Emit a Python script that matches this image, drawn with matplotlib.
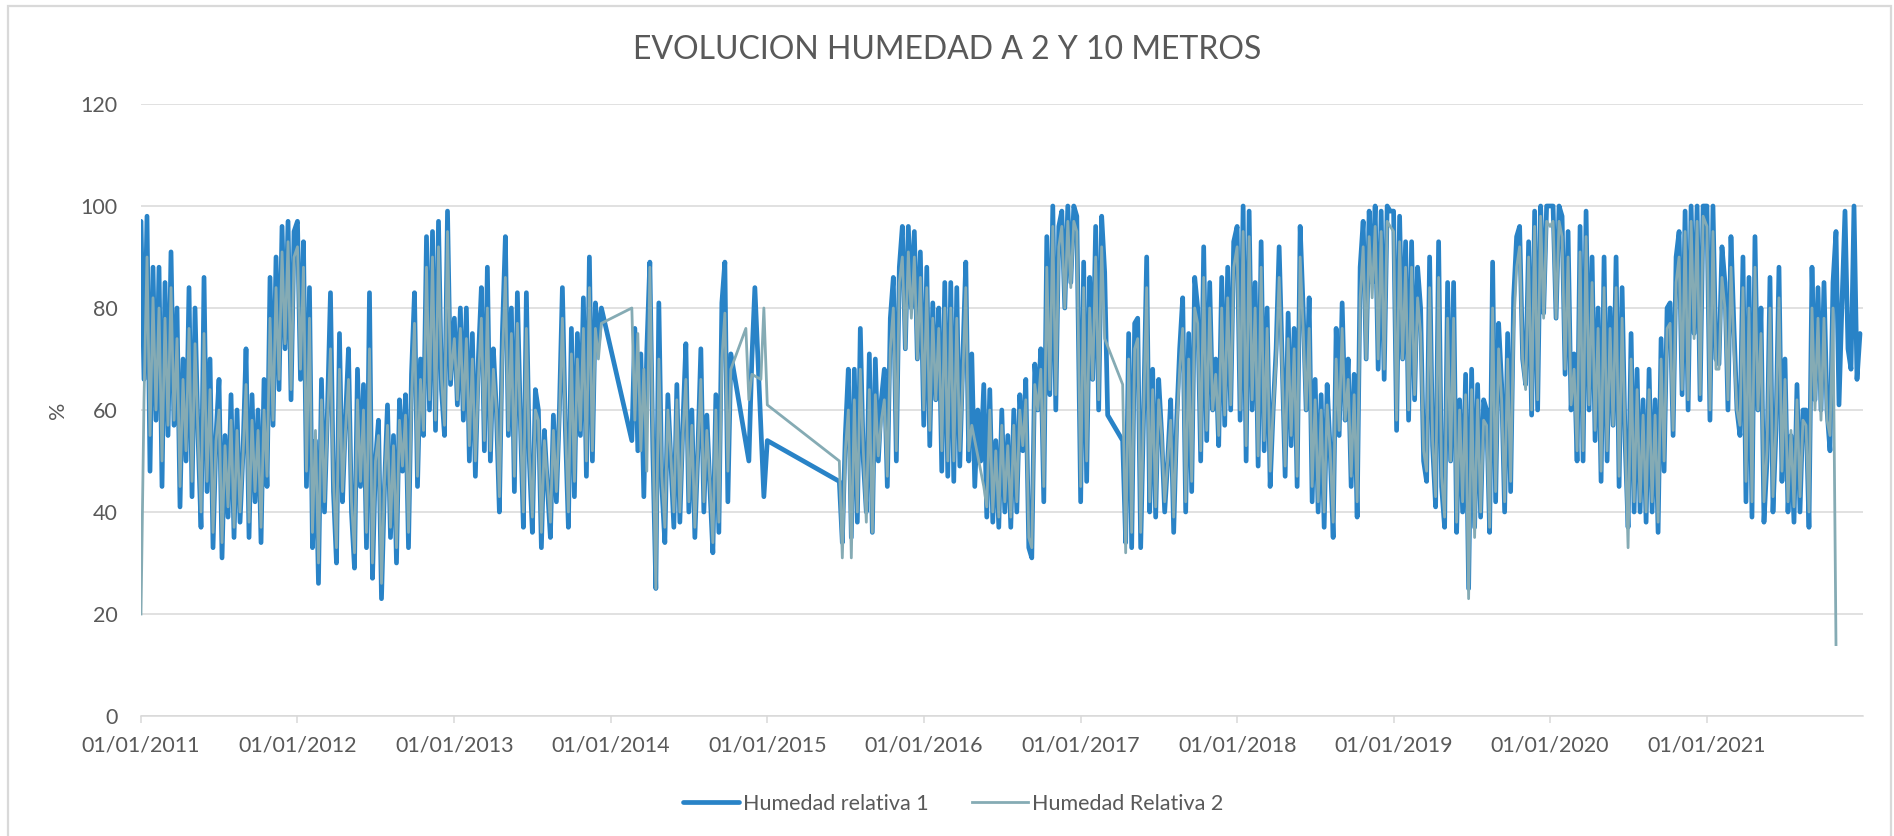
import numpy as np
import pandas as pd
import matplotlib
matplotlib.use("Agg")
import matplotlib.pyplot as plt
import matplotlib.dates as mdates
from matplotlib.patches import Rectangle

nan = np.nan

# Weekly humidity readings (%), 52 per year starting on 1 January.
# nan = no data that week (Excel joins the line across the gap).
HR1_2011 = [97, 66, 98, 48, 88, 58, 88, 45, 85, 55,
            91, 57, 80, 41, 70, 50, 84, 43, 80, 55,
            37, 86, 44, 70, 33, 55, 66, 31, 55, 39,
            63, 35, 60, 38, 52, 72, 35, 63, 42, 60,
            34, 66, 45, 86, 57, 90, 64, 96, 72, 97,
            62, 95]
HR2_2011 = [20, 62, 90, 55, 82, 60, 80, 50, 78, 57,
            84, 58, 74, 45, 66, 52, 76, 46, 73, 55,
            40, 75, 46, 64, 36, 54, 60, 34, 53, 41,
            58, 37, 56, 40, 51, 65, 38, 58, 44, 56,
            37, 60, 47, 78, 58, 84, 66, 91, 73, 93,
            64, 90]

HR1_2012 = [97, 66, 93, 45, 84, 33, 54, 26, 66, 40,
            60, 83, 44, 30, 75, 42, 58, 72, 40, 29,
            68, 45, 65, 33, 83, 27, 50, 58, 23, 45,
            61, 35, 55, 30, 62, 48, 63, 33, 67, 83,
            45, 70, 55, 94, 60, 95, 56, 97, 64, 55,
            99, 65]
HR2_2012 = [92, 68, 88, 48, 78, 36, 56, 30, 62, 42,
            58, 72, 46, 33, 68, 44, 56, 66, 42, 32,
            62, 46, 60, 36, 72, 30, 50, 55, 26, 46,
            57, 37, 53, 33, 58, 49, 59, 36, 62, 77,
            47, 66, 56, 88, 62, 90, 58, 92, 66, 57,
            95, 66]

HR1_2013 = [78, 61, 80, 58, 80, 50, 75, 47, 70, 84,
            52, 88, 50, 72, 60, 40, 75, 94, 55, 80,
            44, 83, 58, 37, 83, 50, 36, 64, 60, 33,
            56, 45, 35, 59, 42, 60, 84, 56, 37, 76,
            43, 75, 55, 82, 47, 90, 50, 81, 73, 80,
            nan, nan]
HR2_2013 = [74, 62, 76, 60, 74, 53, 70, 50, 66, 78,
            54, 80, 52, 68, 60, 43, 70, 86, 56, 75,
            47, 77, 57, 40, 76, 51, 39, 60, 58, 36,
            54, 46, 38, 56, 44, 58, 78, 57, 40, 71,
            46, 70, 56, 76, 50, 84, 52, 76, 70, 77,
            nan, nan]

HR1_2014 = [nan, nan, nan, nan, nan, nan, nan, 54, 76, 52,
            71, 43, 72, 89, 52, 25, 81, 45, 34, 63,
            50, 37, 65, 38, 57, 73, 40, 60, 35, 52,
            72, 40, 59, 45, 32, 63, 36, 81, 89, 42,
            71, nan, nan, nan, nan, nan, 50, 70, 84, nan,
            nan, 43]
HR2_2014 = [nan, nan, nan, nan, nan, nan, nan, 80, 58, 75,
            52, 68, 48, 88, 55, 25, 70, 47, 37, 60,
            51, 40, 62, 40, 55, 66, 42, 57, 37, 52,
            66, 42, 56, 46, 34, 60, 38, 70, 79, 48,
            68, nan, nan, nan, nan, 76, 62, 67, nan, nan,
            66, 80]

HR1_2015 = [54, nan, nan, nan, nan, nan, nan, nan, nan, nan,
            nan, nan, nan, nan, nan, nan, nan, nan, nan, nan,
            nan, nan, nan, nan, 46, 34, 55, 68, 35, 68,
            38, 76, 50, 40, 71, 36, 70, 50, 62, 68,
            45, 78, 86, 50, 88, 96, 72, 96, 80, 95,
            70, 91]
HR2_2015 = [61, nan, nan, nan, nan, nan, nan, nan, nan, nan,
            nan, nan, nan, nan, nan, nan, nan, nan, nan, nan,
            nan, nan, nan, nan, 50, 31, 52, 60, 31, 62,
            40, 68, 52, 38, 64, 36, 63, 51, 58, 62,
            47, 72, 80, 52, 85, 90, 72, 91, 78, 90,
            70, 86]

HR1_2016 = [57, 88, 53, 81, 62, 80, 48, 85, 47, 85,
            46, 84, 49, 70, 89, 50, 71, 45, 60, 50,
            65, 39, 64, 38, 54, 37, 60, 40, 55, 37,
            60, 40, 63, 52, 66, 33, 31, 69, 60, 72,
            42, 94, 63, 100, 60, 96, 99, 80, 100, 85,
            100, 98]
HR2_2016 = [60, 84, 56, 78, 62, 76, 52, 80, 50, 80,
            50, 78, 52, 66, 84, 52, 57, nan, nan, nan,
            45, 41, 60, 40, 52, 39, 57, 42, 53, 39,
            57, 42, 60, 53, 62, 35, 33, 65, 60, 68,
            45, 88, 64, 96, 63, 92, 96, 80, 97, 84,
            97, 95]

HR1_2017 = [42, 89, 46, 86, 66, 96, 60, 98, 87, 59,
            nan, nan, nan, nan, 54, 34, 75, 33, 77, 78,
            33, 60, 90, 40, 68, 39, 66, 55, 40, 50,
            62, 36, 58, 72, 82, 40, 75, 44, 86, 80,
            50, 92, 54, 85, 60, 70, 53, 86, 57, 88,
            60, 93]
HR2_2017 = [45, 84, 50, 80, 66, 90, 62, 92, 74, nan,
            nan, nan, nan, nan, 65, 32, 70, 36, 72, 74,
            36, 60, 84, 42, 64, 41, 62, 55, 42, 50,
            58, 39, 56, 68, 76, 42, 70, 46, 80, 77,
            52, 86, 56, 80, 60, 67, 55, 80, 59, 82,
            61, 88]

HR1_2018 = [96, 58, 100, 50, 99, 60, 85, 49, 93, 52,
            80, 45, 60, 72, 92, 70, 47, 79, 53, 76,
            45, 96, 80, 60, 82, 42, 66, 40, 63, 37,
            65, 52, 35, 76, 55, 81, 58, 70, 45, 67,
            39, 88, 97, 70, 99, 85, 100, 68, 99, 66,
            100, 99]
HR2_2018 = [92, 60, 95, 53, 94, 62, 80, 51, 88, 54,
            76, 48, 60, 70, 86, 68, 49, 74, 55, 72,
            47, 90, 76, 60, 76, 45, 62, 42, 60, 40,
            61, 52, 38, 70, 56, 76, 58, 66, 47, 63,
            42, 82, 92, 70, 94, 82, 96, 70, 95, 68,
            97, 96]

HR1_2019 = [99, 56, 98, 70, 93, 58, 93, 62, 88, 80,
            50, 46, 90, 53, 41, 93, 45, 37, 85, 50,
            85, 36, 62, 40, 67, 25, 68, 37, 65, 39,
            62, 60, 36, 89, 42, 77, 65, 40, 75, 44,
            82, 94, 96, 70, 65, 93, 59, 99, 60, 100,
            79, 100]
HR2_2019 = [95, 58, 93, 70, 88, 60, 88, 63, 82, 75,
            52, 48, 84, 54, 43, 86, 47, 39, 78, 50,
            78, 38, 60, 42, 63, 23, 64, 35, 62, 40,
            58, 57, 37, 80, 44, 72, 62, 42, 70, 46,
            76, 88, 92, 70, 64, 90, 60, 96, 62, 98,
            78, 97]

HR1_2020 = [100, 100, 78, 100, 98, 67, 95, 60, 71, 50,
            96, 50, 99, 60, 90, 54, 80, 46, 90, 50,
            80, 57, 90, 45, 84, 54, 37, 75, 40, 68,
            40, 62, 38, 68, 40, 62, 36, 74, 48, 80,
            81, 55, 90, 95, 63, 99, 60, 100, 75, 100,
            62, 100]
HR2_2020 = [96, 97, 78, 97, 94, 68, 90, 61, 68, 52,
            91, 52, 94, 61, 85, 56, 76, 48, 84, 52,
            76, 57, 84, 47, 78, 55, 33, 70, 42, 64,
            42, 59, 40, 64, 42, 59, 38, 70, 50, 76,
            77, 56, 85, 90, 64, 95, 62, 97, 74, 97,
            63, 98]

HR1_2021 = [100, 58, 100, 70, 69, 92, 85, 60, 94, 76,
            60, 55, 90, 42, 86, 39, 94, 60, 80, 38,
            50, 86, 40, 56, 88, 46, 70, 40, 55, 38,
            65, 40, 60, 60, 37, 88, 62, 84, 60, 85,
            60, 52, 85, 95, 61, 81, 99, 72, 68, 100,
            66, 75]
HR2_2021 = [96, 60, 95, 68, 68, 86, 80, 62, 88, 72,
            60, 57, 84, 46, 80, 42, 88, 60, 75, 42,
            52, 80, 43, 57, 82, 48, 66, 42, 56, 41,
            62, 43, 58, 57, 40, 80, 60, 78, 58, 78,
            58, 55, 80, 14, nan, nan, nan, nan, nan, nan,
            nan, nan]

YEARS = list(range(2011, 2022))
HR1 = [HR1_2011, HR1_2012, HR1_2013, HR1_2014, HR1_2015, HR1_2016,
       HR1_2017, HR1_2018, HR1_2019, HR1_2020, HR1_2021]
HR2 = [HR2_2011, HR2_2012, HR2_2013, HR2_2014, HR2_2015, HR2_2016,
       HR2_2017, HR2_2018, HR2_2019, HR2_2020, HR2_2021]

TITLE = "EVOLUCION HUMEDAD A 2 Y 10 METROS"
LABELS = ["Humedad relativa 1", "Humedad Relativa 2"]

BLUE = "#2983C7"
GREY = "#85ABB4"
TEXT = "#595959"
GRID = "#D9D9D9"


def weekly_series(year_lists):
    dates, vals = [], []
    for year, values in zip(YEARS, year_lists):
        assert len(values) == 52, (year, len(values))
        start = pd.Timestamp(year, 1, 1)
        for k, v in enumerate(values):
            dates.append(start + pd.Timedelta(days=7 * k))
            vals.append(v)
    # drop the gaps so the line is joined straight across them
    return pd.Series(vals, index=dates).dropna()


s1 = weekly_series(HR1)
s2 = weekly_series(HR2)

plt.rcParams["font.family"] = ["Lato", "DejaVu Sans"]

W, H = 1894, 836
fig = plt.figure(figsize=(W / 100, H / 100), dpi=100)
ax = fig.add_axes([141 / W, 1 - 716 / H, (1863 - 141) / W, (716 - 104) / H])

ax.plot(s1.index, s1.values, color=BLUE, lw=3.4, solid_joinstyle="round",
        solid_capstyle="round", label=LABELS[0], zorder=3)
ax.plot(s2.index, s2.values, color=GREY, lw=2.0, solid_joinstyle="round",
        label=LABELS[1], zorder=4)

ax.set_ylim(0, 120)
ax.set_yticks(range(0, 121, 20))
ax.set_xlim(pd.Timestamp(2011, 1, 1), pd.Timestamp(2021, 12, 31))
ax.set_xticks([pd.Timestamp(y, 1, 1) for y in YEARS])
ax.xaxis.set_major_formatter(mdates.DateFormatter("%d/%m/%Y"))

ax.grid(axis="y", color=GRID, lw=1.1)
ax.set_axisbelow(True)
for side in ["top", "right", "left"]:
    ax.spines[side].set_visible(False)
ax.spines["bottom"].set_color(GRID)
ax.spines["bottom"].set_linewidth(1.1)
ax.tick_params(axis="x", length=5, width=1.1, color=GRID, labelsize=15.5,
               labelcolor=TEXT, pad=9)
ax.tick_params(axis="y", length=0, labelsize=15.5, labelcolor=TEXT, pad=17)

fig.text(0.5, 1 - 50 / H, TITLE, ha="center", va="center", fontsize=23,
         color=TEXT)
fig.text(58 / W, 1 - 410 / H, "%", rotation=90, ha="center", va="center",
         fontsize=15.5, color=TEXT)

fig.legend(loc="center", bbox_to_anchor=(953 / W, 1 - 804 / H), ncol=2,
           frameon=False, fontsize=15.5, labelcolor=TEXT, handlelength=2.6,
           handletextpad=0.2, columnspacing=2.0)

# chart area border
fig.add_artist(Rectangle((8 / W, -0.02), (1891 - 8) / W, 1.02 - 6 / H,
                         transform=fig.transFigure, fill=False,
                         edgecolor=GRID, lw=1.6))

fig.savefig("out.png", dpi=100)
